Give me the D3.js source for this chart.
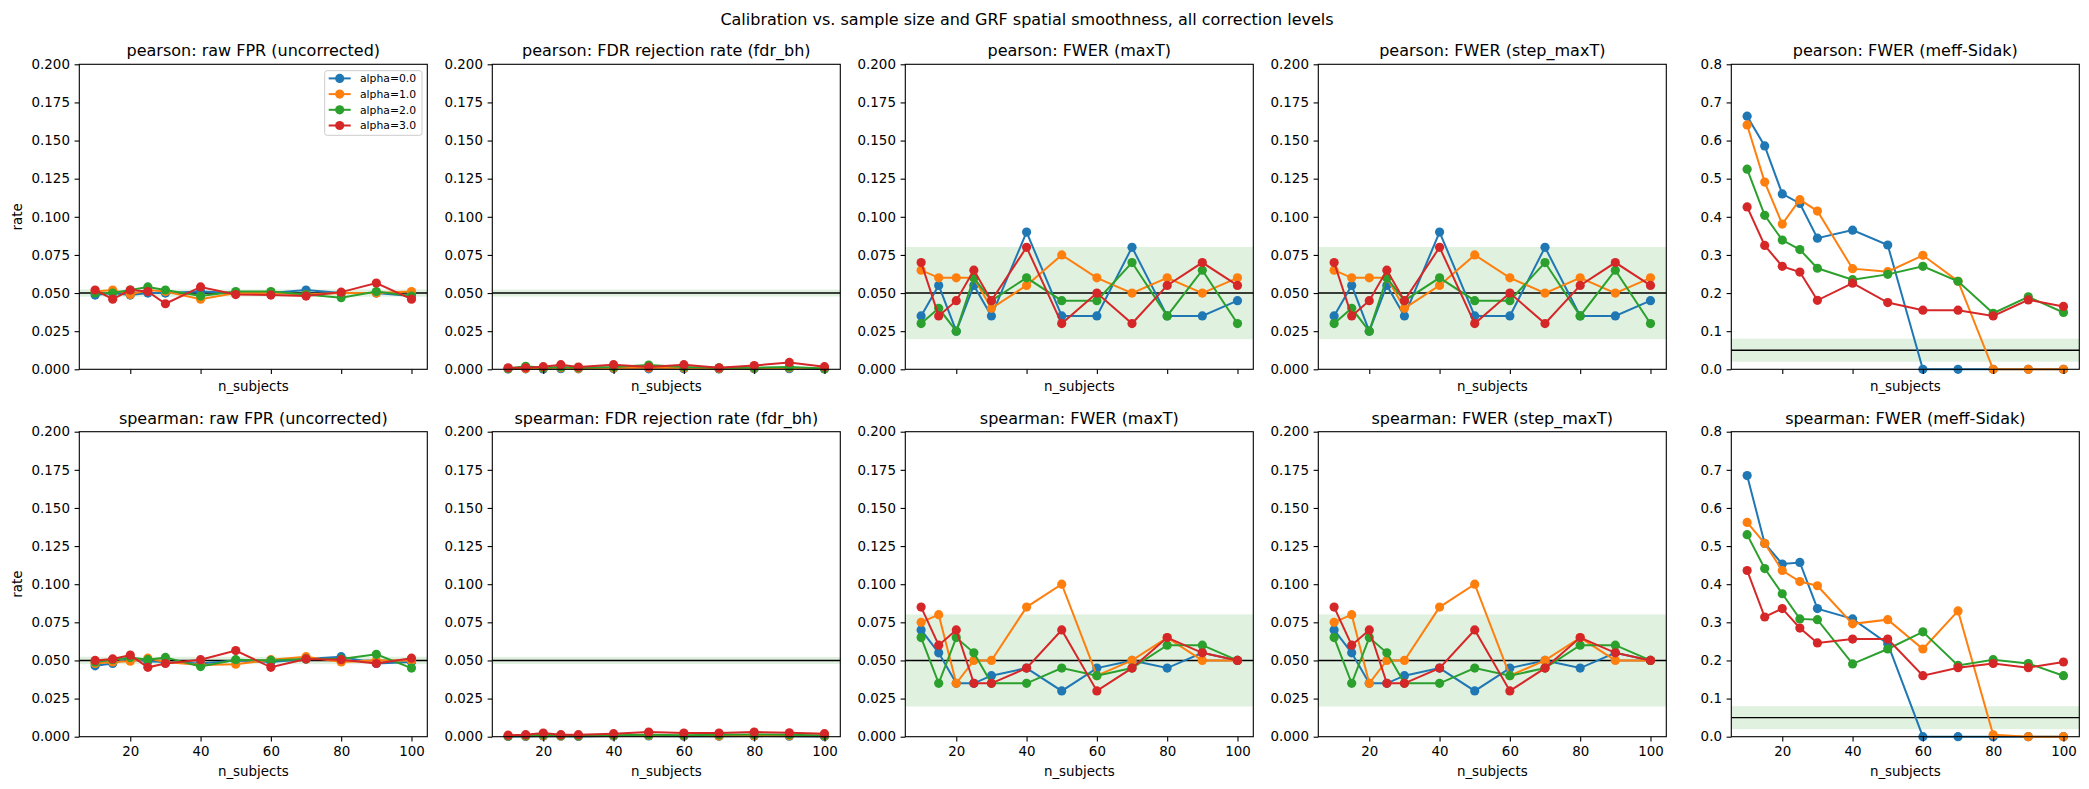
<!DOCTYPE html>
<html>
<head>
<meta charset="utf-8">
<script src="https://cdn.jsdelivr.net/npm/d3@7"></script>
<style>
  body { margin: 0; background: #fff; }
  svg text { font-family: "DejaVu Sans", sans-serif; fill: #000; }
</style>
</head>
<body>
<div id="chart"></div>
<script>
// n_subjects on the x axis
const nSubjects = [10, 15, 20, 25, 30, 40, 50, 60, 70, 80, 90, 100];
const alphaLabels = ["alpha=0.0", "alpha=1.0", "alpha=2.0", "alpha=3.0"];
const colors = ["#1f77b4", "#ff7f0e", "#2ca02c", "#d62728"];
const methods = ["pearson", "spearman"];
const levels = ["raw FPR (uncorrected)", "FDR rejection rate (fdr_bh)", "FWER (maxT)", "FWER (step_maxT)", "FWER (meff-Sidak)"];
const yMaxes = [0.2, 0.2, 0.2, 0.2, 0.8];
const nominal = 0.05;
const bandHalf = [0.0024, 0.0023, 0.0302, 0.0302, 0.0302];
const xTicks = [20, 40, 60, 80, 100];

// pearson, one row per alpha
const pearsonRaw = [
  [0.0487, 0.050, 0.0487, 0.050, 0.050, 0.051, 0.050, 0.050, 0.052, 0.050, 0.050, 0.048],
  [0.051, 0.052, 0.049, 0.052, 0.051, 0.046, 0.050, 0.050, 0.049, 0.050, 0.050, 0.051],
  [0.050, 0.050, 0.052, 0.054, 0.052, 0.048, 0.051, 0.051, 0.049, 0.047, 0.051, 0.048],
  [0.052, 0.046, 0.052, 0.051, 0.043, 0.054, 0.049, 0.0487, 0.048, 0.0506, 0.0566, 0.046]
];
const pearsonFdr = [
  [0.0002, 0.0003, 0.0002, 0.0004, 0.0003, 0.0005, 0.0003, 0.0004, 0.0002, 0.0003, 0.0004, 0.0002],
  [0.0005, 0.0006, 0.0008, 0.0010, 0.0005, 0.0008, 0.0010, 0.0008, 0.0005, 0.0007, 0.0010, 0.0005],
  [0.0005, 0.0020, 0.0010, 0.0015, 0.0010, 0.0015, 0.0028, 0.0015, 0.0010, 0.0010, 0.0015, 0.0005],
  [0.0010, 0.0010, 0.0017, 0.0030, 0.0015, 0.0030, 0.0015, 0.0030, 0.0010, 0.0025, 0.0045, 0.0017]
];
const pearsonMaxT = [
  [0.035, 0.055, 0.025, 0.055, 0.035, 0.090, 0.035, 0.035, 0.080, 0.035, 0.035, 0.045],
  [0.065, 0.060, 0.060, 0.060, 0.040, 0.055, 0.075, 0.060, 0.050, 0.060, 0.050, 0.060],
  [0.030, 0.040, 0.025, 0.060, 0.045, 0.060, 0.045, 0.045, 0.070, 0.035, 0.065, 0.030],
  [0.070, 0.035, 0.045, 0.065, 0.045, 0.080, 0.030, 0.050, 0.030, 0.055, 0.070, 0.055]
];
const pearsonStepMaxT = [
  [0.035, 0.055, 0.025, 0.055, 0.035, 0.090, 0.035, 0.035, 0.080, 0.035, 0.035, 0.045],
  [0.065, 0.060, 0.060, 0.060, 0.040, 0.055, 0.075, 0.060, 0.050, 0.060, 0.050, 0.060],
  [0.030, 0.040, 0.025, 0.060, 0.045, 0.060, 0.045, 0.045, 0.070, 0.035, 0.065, 0.030],
  [0.070, 0.035, 0.045, 0.065, 0.045, 0.080, 0.030, 0.050, 0.030, 0.055, 0.070, 0.055]
];
const pearsonMeff = [
  [0.664, 0.586, 0.460, 0.435, 0.344, 0.365, 0.326, 0.000, 0.000, 0.000, 0.000, 0.000],
  [0.641, 0.491, 0.381, 0.445, 0.415, 0.264, 0.256, 0.299, 0.231, 0.000, 0.000, 0.000],
  [0.525, 0.404, 0.339, 0.314, 0.265, 0.235, 0.249, 0.270, 0.231, 0.147, 0.190, 0.149],
  [0.426, 0.325, 0.270, 0.255, 0.181, 0.226, 0.175, 0.155, 0.155, 0.140, 0.182, 0.165]
];

// spearman, one row per alpha
const spearmanRaw = [
  [0.0465, 0.048, 0.0515, 0.0495, 0.049, 0.048, 0.050, 0.049, 0.051, 0.0525, 0.048, 0.049],
  [0.048, 0.049, 0.0495, 0.0515, 0.049, 0.047, 0.0475, 0.0505, 0.0525, 0.049, 0.050, 0.050],
  [0.049, 0.0505, 0.052, 0.0505, 0.052, 0.046, 0.0505, 0.050, 0.051, 0.051, 0.054, 0.045],
  [0.050, 0.051, 0.0535, 0.0455, 0.048, 0.0505, 0.0565, 0.0455, 0.051, 0.0505, 0.048, 0.0515]
];
const spearmanFdr = [
  [0.0002, 0.0002, 0.0004, 0.0003, 0.0002, 0.0004, 0.0005, 0.0003, 0.0003, 0.0004, 0.0003, 0.0002],
  [0.0004, 0.0005, 0.0006, 0.0005, 0.0004, 0.0006, 0.0008, 0.0006, 0.0005, 0.0007, 0.0006, 0.0004],
  [0.0005, 0.0008, 0.0012, 0.0008, 0.0006, 0.0010, 0.0012, 0.0010, 0.0012, 0.0014, 0.0013, 0.0008],
  [0.0010, 0.0013, 0.0024, 0.0013, 0.0013, 0.0020, 0.0030, 0.0024, 0.0024, 0.0030, 0.0026, 0.0020]
];
const spearmanMaxT = [
  [0.070, 0.055, 0.035, 0.035, 0.040, 0.045, 0.030, 0.045, 0.050, 0.045, 0.055, 0.050],
  [0.075, 0.080, 0.035, 0.050, 0.050, 0.085, 0.100, 0.040, 0.050, 0.065, 0.050, 0.050],
  [0.065, 0.035, 0.065, 0.055, 0.035, 0.035, 0.045, 0.040, 0.045, 0.060, 0.060, 0.050],
  [0.085, 0.060, 0.070, 0.035, 0.035, 0.045, 0.070, 0.030, 0.045, 0.065, 0.055, 0.050]
];
const spearmanStepMaxT = [
  [0.070, 0.055, 0.035, 0.035, 0.040, 0.045, 0.030, 0.045, 0.050, 0.045, 0.055, 0.050],
  [0.075, 0.080, 0.035, 0.050, 0.050, 0.085, 0.100, 0.040, 0.050, 0.065, 0.050, 0.050],
  [0.065, 0.035, 0.065, 0.055, 0.035, 0.035, 0.045, 0.040, 0.045, 0.060, 0.060, 0.050],
  [0.085, 0.060, 0.070, 0.035, 0.035, 0.045, 0.070, 0.030, 0.045, 0.065, 0.055, 0.050]
];
const spearmanMeff = [
  [0.685, 0.507, 0.453, 0.457, 0.336, 0.309, 0.244, 0.000, 0.000, 0.000, 0.000, 0.000],
  [0.562, 0.507, 0.436, 0.407, 0.396, 0.296, 0.307, 0.230, 0.330, 0.005, 0.000, 0.000],
  [0.530, 0.441, 0.375, 0.309, 0.307, 0.191, 0.230, 0.275, 0.187, 0.202, 0.192, 0.160],
  [0.436, 0.314, 0.336, 0.285, 0.246, 0.256, 0.256, 0.160, 0.181, 0.192, 0.181, 0.196]
];

const panelData = [
  [pearsonRaw, pearsonFdr, pearsonMaxT, pearsonStepMaxT, pearsonMeff],
  [spearmanRaw, spearmanFdr, spearmanMaxT, spearmanStepMaxT, spearmanMeff]
];

let w = 2089;
let h = 789;
let axW = 348;
let axH = 305;
let axLeft0 = 79.3;
let colStep = 413;
let rowTops = [64.3, 431.7];
let tickLen = 4.7;
let dotRadius = 4.6;
let tickFont = "13.4px";
let titleFont = "16px";

const svg = d3.select("#chart")
              .append("svg")
              .attr("width", w)
              .attr("height", h);

svg.append("text")
   .attr("x", 1027)
   .attr("y", 24.5)
   .attr("text-anchor", "middle")
   .style("font-size", titleFont)
   .text("Calibration vs. sample size and GRF spatial smoothness, all correction levels");

const xScale = d3.scaleLinear()
                 .domain([5.5, 104.5])
                 .range([0, axW]);

methods.forEach((method, r) => {
  levels.forEach((level, c) => {
    const g = svg.append("g")
                 .attr("transform", "translate(" + (axLeft0 + c * colStep) + "," + rowTops[r] + ")");

    const yMax = yMaxes[c];
    const yScale = d3.scaleLinear()
                     .domain([0, yMax])
                     .range([axH, 0]);

    // band + nominal line
    g.append("rect")
     .attr("x", 0)
     .attr("width", axW)
     .attr("y", yScale(nominal + bandHalf[c]))
     .attr("height", yScale(nominal - bandHalf[c]) - yScale(nominal + bandHalf[c]))
     .attr("fill", "#2ca02c")
     .attr("fill-opacity", 0.15);

    g.append("line")
     .attr("x1", 0)
     .attr("x2", axW)
     .attr("y1", yScale(nominal))
     .attr("y2", yScale(nominal))
     .attr("stroke", "#000")
     .attr("stroke-width", 1.4);

    const line = d3.line()
                   .x((d, i) => xScale(nSubjects[i]))
                   .y(d => yScale(d));

    panelData[r][c].forEach((series, k) => {
      const sg = g.append("g");
      sg.append("path")
        .datum(series)
        .attr("d", line)
        .attr("fill", "none")
        .attr("stroke", colors[k])
        .attr("stroke-width", 2);
      sg.selectAll("circle")
        .data(series)
        .enter()
        .append("circle")
        .attr("cx", (d, i) => xScale(nSubjects[i]))
        .attr("cy", d => yScale(d))
        .attr("r", dotRadius)
        .attr("fill", colors[k]);
    });

    // axes
    const yTicks = yMax > 0.5 ? d3.range(0, 0.8001, 0.1) : d3.range(0, 0.2001, 0.025);
    const yAxis = d3.axisLeft(yScale)
                    .tickValues(yTicks)
                    .tickFormat(d3.format(yMax > 0.5 ? ".1f" : ".3f"))
                    .tickSize(tickLen)
                    .tickPadding(4.7);
    const ya = g.append("g").call(yAxis);

    const xAxis = d3.axisBottom(xScale)
                    .tickValues(xTicks)
                    .tickSize(tickLen)
                    .tickPadding(4.7)
                    .tickFormat(r === 1 ? d3.format("d") : () => "");
    const xa = g.append("g")
                .attr("transform", "translate(0," + axH + ")")
                .call(xAxis);

    [ya, xa].forEach(a => {
      a.select(".domain").remove();
      a.selectAll("line").attr("stroke", "#000").attr("stroke-width", 1.1);
      a.selectAll("text")
       .style("font-size", tickFont)
       .style("font-family", "'DejaVu Sans', sans-serif")
       .attr("fill", "#000");
    });

    g.append("rect")
     .attr("width", axW)
     .attr("height", axH)
     .attr("fill", "none")
     .attr("stroke", "#000")
     .attr("stroke-width", 1.1);

    g.append("text")
     .attr("x", axW / 2)
     .attr("y", -8)
     .attr("text-anchor", "middle")
     .style("font-size", titleFont)
     .text(method + ": " + level);

    g.append("text")
     .attr("x", axW / 2)
     .attr("y", r === 1 ? axH + 39 : axH + 21.5)
     .attr("text-anchor", "middle")
     .style("font-size", tickFont)
     .text("n_subjects");

    if (c === 0) {
      g.append("text")
       .attr("transform", "rotate(-90)")
       .attr("x", -axH / 2)
       .attr("y", -57.5)
       .attr("text-anchor", "middle")
       .style("font-size", tickFont)
       .text("rate");
    }

    // legend only in first panel
    if (r === 0 && c === 0) {
      const lg = g.append("g")
                  .attr("transform", "translate(" + (324.7 - axLeft0) + "," + (70.7 - rowTops[0]) + ")");
      lg.append("rect")
        .attr("width", 97.3)
        .attr("height", 64.6)
        .attr("rx", 2.5)
        .attr("fill", "#fff")
        .attr("fill-opacity", 0.8)
        .attr("stroke", "#cccccc")
        .attr("stroke-width", 1);
      alphaLabels.forEach((lab, k) => {
        const yy = 7.7 + k * 15.7;
        lg.append("line")
          .attr("x1", 4).attr("x2", 26)
          .attr("y1", yy).attr("y2", yy)
          .attr("stroke", colors[k])
          .attr("stroke-width", 2);
        lg.append("circle")
          .attr("cx", 15).attr("cy", yy)
          .attr("r", dotRadius)
          .attr("fill", colors[k]);
        lg.append("text")
          .attr("x", 35.3)
          .attr("y", yy + 3.8)
          .style("font-size", "10.8px")
          .text(lab);
      });
    }
  });
});
</script>
</body>
</html>
